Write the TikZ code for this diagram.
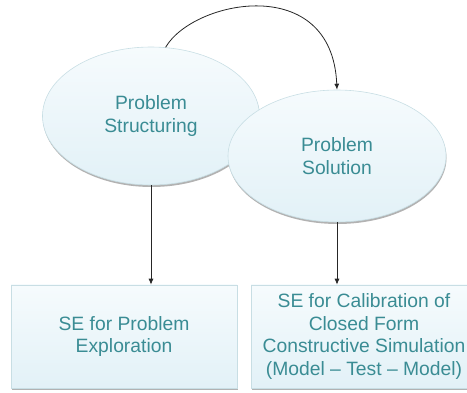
\documentclass[tikz,border=0pt]{standalone}
\usepackage{fontspec}
\setmainfont{Liberation Sans}
\usepackage{tikz}
\usetikzlibrary{shapes.geometric,shadows,arrows.meta}
\definecolor{tealtext}{RGB}{58,140,148}
\definecolor{paletop}{RGB}{246,251,253}
\definecolor{palebot}{RGB}{226,241,247}
\definecolor{paleline}{RGB}{200,222,228}

\begin{document}
\begin{tikzpicture}[x=1pt, y=-1pt,
  bubble/.style={ellipse, draw=paleline, line width=0.6pt, top color=paletop, bottom color=palebot,
    inner sep=0pt, align=center, text=tealtext, font=\fontsize{19.3}{22.5}\selectfont,
    drop shadow={shadow xshift=0.5pt, shadow yshift=-2pt, fill=black, opacity=0.3}},
  panel/.style={rectangle, draw=paleline, line width=0.6pt, top color=paletop, bottom color=palebot,
    inner sep=0pt, align=center, text=tealtext, font=\fontsize{19.3}{22.5}\selectfont,
    minimum width=226pt, minimum height=103pt,
    drop shadow={shadow xshift=0.5pt, shadow yshift=-2pt, fill=black, opacity=0.3}},
  link/.style={-{Latex[length=6pt,width=5pt]}, line width=0.8pt, black!85}]
  \useasboundingbox (0,0) rectangle (467,393);

  \node[bubble, minimum width=217pt, minimum height=138pt] (Str) at (151,116) {Problem\\Structuring};
  \node[bubble, minimum width=218pt, minimum height=132pt] (Sol) at (337,156) {Problem\\Solution};

  \node[panel] (Exp) at (124,336.5) {SE for Problem\\Exploration};
  \node[panel] (Cal) at (364,336.5) {SE for Calibration of\\Closed Form\\Constructive Simulation\\(Model -- Test -- Model)};

  % arc over the top, then straight drops into the boxes
  \draw[link] (Str.78) .. controls (193,0) and (332,-28) .. (Sol.north);
  \draw[link] (Str.south) -- (Str.south |- Exp.north);
  \draw[link] (Sol.south) -- (Sol.south |- Cal.north);
\end{tikzpicture}
\end{document}
